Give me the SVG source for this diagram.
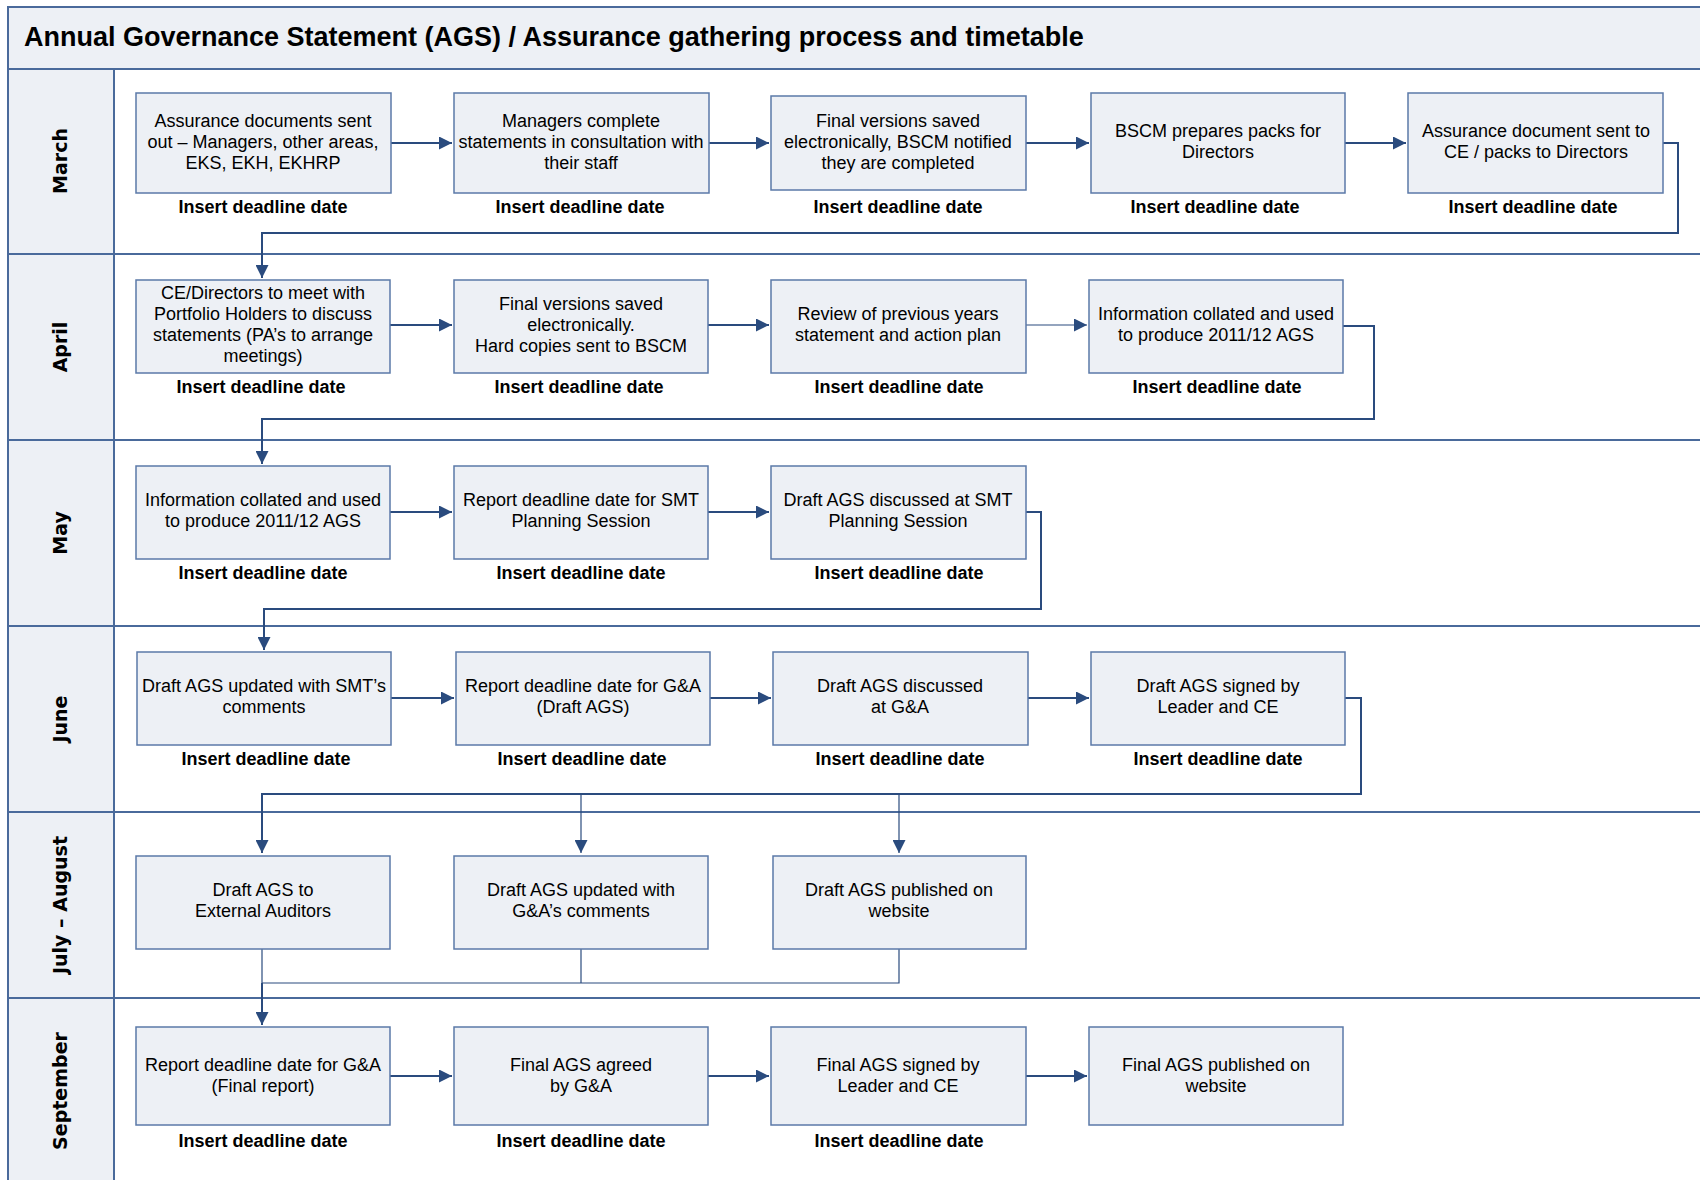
<svg xmlns="http://www.w3.org/2000/svg" width="1700" height="1180" viewBox="0 0 1700 1180">
<defs>
<style>
.frame{fill:none;stroke:#4A6A9B;stroke-width:2}
.band{fill:#EDF0F5}
.lane{stroke:#4A6A9B;stroke-width:2}
.box{fill:#EDF0F5;stroke:#5B79A8;stroke-width:1.5}
.t{font-family:"Liberation Sans",Arial,sans-serif;font-size:18px;fill:#000;text-anchor:middle}
.d{font-family:"Liberation Sans",Arial,sans-serif;font-size:18px;font-weight:bold;fill:#000;text-anchor:middle}
.title{font-family:"Liberation Sans",Arial,sans-serif;font-size:27px;font-weight:bold;fill:#000}
.lbl{font-family:"DejaVu Sans",Verdana,sans-serif;font-size:19px;font-weight:bold;fill:#000;text-anchor:middle}
.c{fill:none;stroke:#2A4B7E;stroke-width:2}
.c1{fill:none;stroke:#2A4B7E;stroke-width:1.2}
</style>
<marker id="ah" viewBox="0 0 10 10" refX="10" refY="5" markerWidth="13" markerHeight="13" markerUnits="userSpaceOnUse" orient="auto">
<path d="M0,0 L10,5 L0,10 z" fill="#2A4B7E"/>
</marker>
</defs>
<rect x="0" y="0" width="1700" height="1180" fill="#fff"/>
<g id="frame">
<rect class="band" x="8" y="7" width="1700" height="62"/>
<rect class="band" x="8" y="69" width="106" height="1120"/>
<rect class="frame" x="8" y="7" width="1710" height="1190"/>
<line class="lane" x1="8" y1="69" x2="1700" y2="69"/>
<line class="lane" x1="114" y1="69" x2="114" y2="1180"/>
<line class="lane" x1="8" y1="254" x2="1700" y2="254"/>
<line class="lane" x1="8" y1="440" x2="1700" y2="440"/>
<line class="lane" x1="8" y1="626" x2="1700" y2="626"/>
<line class="lane" x1="8" y1="812" x2="1700" y2="812"/>
<line class="lane" x1="8" y1="998" x2="1700" y2="998"/>
<text class="title" x="24" y="46">Annual Governance Statement (AGS) / Assurance gathering process and timetable</text>
</g>
<g id="lanes">
<text class="lbl" transform="translate(67,161) rotate(-90)">March</text>
<text class="lbl" transform="translate(67,347) rotate(-90)">April</text>
<text class="lbl" transform="translate(67,533) rotate(-90)">May</text>
<text class="lbl" transform="translate(67,719) rotate(-90)">June</text>
<text class="lbl" transform="translate(67,905) rotate(-90)">July – August</text>
<text class="lbl" transform="translate(67,1091) rotate(-90)">September</text>
</g>
<g id="connectors">
<path class="c" d="M391,143 H452" marker-end="url(#ah)"/>
<path class="c" d="M709,143 H769" marker-end="url(#ah)"/>
<path class="c" d="M1026,143 H1089" marker-end="url(#ah)"/>
<path class="c" d="M1345,143 H1406" marker-end="url(#ah)"/>
<path class="c" d="M1663,143 H1678 V233 H262 V278" marker-end="url(#ah)"/>
<path class="c" d="M390,325 H452" marker-end="url(#ah)"/>
<path class="c" d="M708,325 H769" marker-end="url(#ah)"/>
<path class="c1" d="M1026,325 H1087" marker-end="url(#ah)"/>
<path class="c" d="M1343,326 H1374 V419 H262 V464" marker-end="url(#ah)"/>
<path class="c" d="M390,512 H452" marker-end="url(#ah)"/>
<path class="c" d="M708,512 H769" marker-end="url(#ah)"/>
<path class="c" d="M1026,512 H1041 V609 H264 V650" marker-end="url(#ah)"/>
<path class="c" d="M391,698 H454" marker-end="url(#ah)"/>
<path class="c" d="M710,698 H771" marker-end="url(#ah)"/>
<path class="c" d="M1028,698 H1089" marker-end="url(#ah)"/>
<path class="c" d="M1345,698 H1361 V794 H262 V853" marker-end="url(#ah)"/>
<path class="c1" d="M581,794 V853" marker-end="url(#ah)"/>
<path class="c1" d="M899,794 V853" marker-end="url(#ah)"/>
<path class="c1" d="M262,949 V983"/>
<path class="c1" d="M581,949 V983"/>
<path class="c1" d="M899,949 V983 H262"/>
<path class="c" d="M262,983 V1025" marker-end="url(#ah)"/>
<path class="c" d="M390,1076 H452" marker-end="url(#ah)"/>
<path class="c" d="M708,1076 H769" marker-end="url(#ah)"/>
<path class="c" d="M1026,1076 H1087" marker-end="url(#ah)"/>
</g>
<g id="n-m1"><rect class="box" x="136" y="93" width="255" height="100"/><text class="t" x="263" y="127">Assurance documents sent</text><text class="t" x="263" y="148">out – Managers, other areas,</text><text class="t" x="263" y="169">EKS, EKH, EKHRP</text><text class="d" x="263" y="213">Insert deadline date</text></g>
<g id="n-m2"><rect class="box" x="454" y="93" width="255" height="100"/><text class="t" x="581" y="127">Managers complete</text><text class="t" x="581" y="148">statements in consultation with</text><text class="t" x="581" y="169">their staff</text><text class="d" x="580" y="213">Insert deadline date</text></g>
<g id="n-m3"><rect class="box" x="771" y="96" width="255" height="94"/><text class="t" x="898" y="127">Final versions saved</text><text class="t" x="898" y="148">electronically, BSCM notified</text><text class="t" x="898" y="169">they are completed</text><text class="d" x="898" y="213">Insert deadline date</text></g>
<g id="n-m4"><rect class="box" x="1091" y="93" width="254" height="100"/><text class="t" x="1218" y="137">BSCM prepares packs for</text><text class="t" x="1218" y="158">Directors</text><text class="d" x="1215" y="213">Insert deadline date</text></g>
<g id="n-m5"><rect class="box" x="1408" y="93" width="255" height="100"/><text class="t" x="1536" y="137">Assurance document sent to</text><text class="t" x="1536" y="158">CE / packs to Directors</text><text class="d" x="1533" y="213">Insert deadline date</text></g>

<g id="n-a1"><rect class="box" x="136" y="280" width="254" height="93"/><text class="t" x="263" y="299">CE/Directors to meet with</text><text class="t" x="263" y="320">Portfolio Holders to discuss</text><text class="t" x="263" y="341">statements (PA’s to arrange</text><text class="t" x="263" y="362">meetings)</text><text class="d" x="261" y="393">Insert deadline date</text></g>
<g id="n-a2"><rect class="box" x="454" y="280" width="254" height="93"/><text class="t" x="581" y="310">Final versions saved</text><text class="t" x="581" y="331">electronically.</text><text class="t" x="581" y="352">Hard copies sent to BSCM</text><text class="d" x="579" y="393">Insert deadline date</text></g>
<g id="n-a3"><rect class="box" x="771" y="280" width="255" height="93"/><text class="t" x="898" y="320">Review of previous years</text><text class="t" x="898" y="341">statement and action plan</text><text class="d" x="899" y="393">Insert deadline date</text></g>
<g id="n-a4"><rect class="box" x="1089" y="280" width="254" height="93"/><text class="t" x="1216" y="320">Information collated and used</text><text class="t" x="1216" y="341">to produce 2011/12 AGS</text><text class="d" x="1217" y="393">Insert deadline date</text></g>

<g id="n-y1"><rect class="box" x="136" y="466" width="254" height="93"/><text class="t" x="263" y="506">Information collated and used</text><text class="t" x="263" y="527">to produce 2011/12 AGS</text><text class="d" x="263" y="579">Insert deadline date</text></g>
<g id="n-y2"><rect class="box" x="454" y="466" width="254" height="93"/><text class="t" x="581" y="506">Report deadline date for SMT</text><text class="t" x="581" y="527">Planning Session</text><text class="d" x="581" y="579">Insert deadline date</text></g>
<g id="n-y3"><rect class="box" x="771" y="466" width="255" height="93"/><text class="t" x="898" y="506">Draft AGS discussed at SMT</text><text class="t" x="898" y="527">Planning Session</text><text class="d" x="899" y="579">Insert deadline date</text></g>

<g id="n-j1"><rect class="box" x="137" y="652" width="254" height="93"/><text class="t" x="264" y="692">Draft AGS updated with SMT’s</text><text class="t" x="264" y="713">comments</text><text class="d" x="266" y="765">Insert deadline date</text></g>
<g id="n-j2"><rect class="box" x="456" y="652" width="254" height="93"/><text class="t" x="583" y="692">Report deadline date for G&amp;A</text><text class="t" x="583" y="713">(Draft AGS)</text><text class="d" x="582" y="765">Insert deadline date</text></g>
<g id="n-j3"><rect class="box" x="773" y="652" width="255" height="93"/><text class="t" x="900" y="692">Draft AGS discussed</text><text class="t" x="900" y="713">at G&amp;A</text><text class="d" x="900" y="765">Insert deadline date</text></g>
<g id="n-j4"><rect class="box" x="1091" y="652" width="254" height="93"/><text class="t" x="1218" y="692">Draft AGS signed by</text><text class="t" x="1218" y="713">Leader and CE</text><text class="d" x="1218" y="765">Insert deadline date</text></g>

<g id="n-ja1"><rect class="box" x="136" y="856" width="254" height="93"/><text class="t" x="263" y="896">Draft AGS to</text><text class="t" x="263" y="917">External Auditors</text></g>
<g id="n-ja2"><rect class="box" x="454" y="856" width="254" height="93"/><text class="t" x="581" y="896">Draft AGS updated with</text><text class="t" x="581" y="917">G&amp;A’s comments</text></g>
<g id="n-ja3"><rect class="box" x="773" y="856" width="253" height="93"/><text class="t" x="899" y="896">Draft AGS published on</text><text class="t" x="899" y="917">website</text></g>

<g id="n-s1"><rect class="box" x="136" y="1027" width="254" height="98"/><text class="t" x="263" y="1071">Report deadline date for G&amp;A</text><text class="t" x="263" y="1092">(Final report)</text><text class="d" x="263" y="1147">Insert deadline date</text></g>
<g id="n-s2"><rect class="box" x="454" y="1027" width="254" height="98"/><text class="t" x="581" y="1071">Final AGS agreed</text><text class="t" x="581" y="1092">by G&amp;A</text><text class="d" x="581" y="1147">Insert deadline date</text></g>
<g id="n-s3"><rect class="box" x="771" y="1027" width="255" height="98"/><text class="t" x="898" y="1071">Final AGS signed by</text><text class="t" x="898" y="1092">Leader and CE</text><text class="d" x="899" y="1147">Insert deadline date</text></g>
<g id="n-s4"><rect class="box" x="1089" y="1027" width="254" height="98"/><text class="t" x="1216" y="1071">Final AGS published on</text><text class="t" x="1216" y="1092">website</text></g>
</svg>
